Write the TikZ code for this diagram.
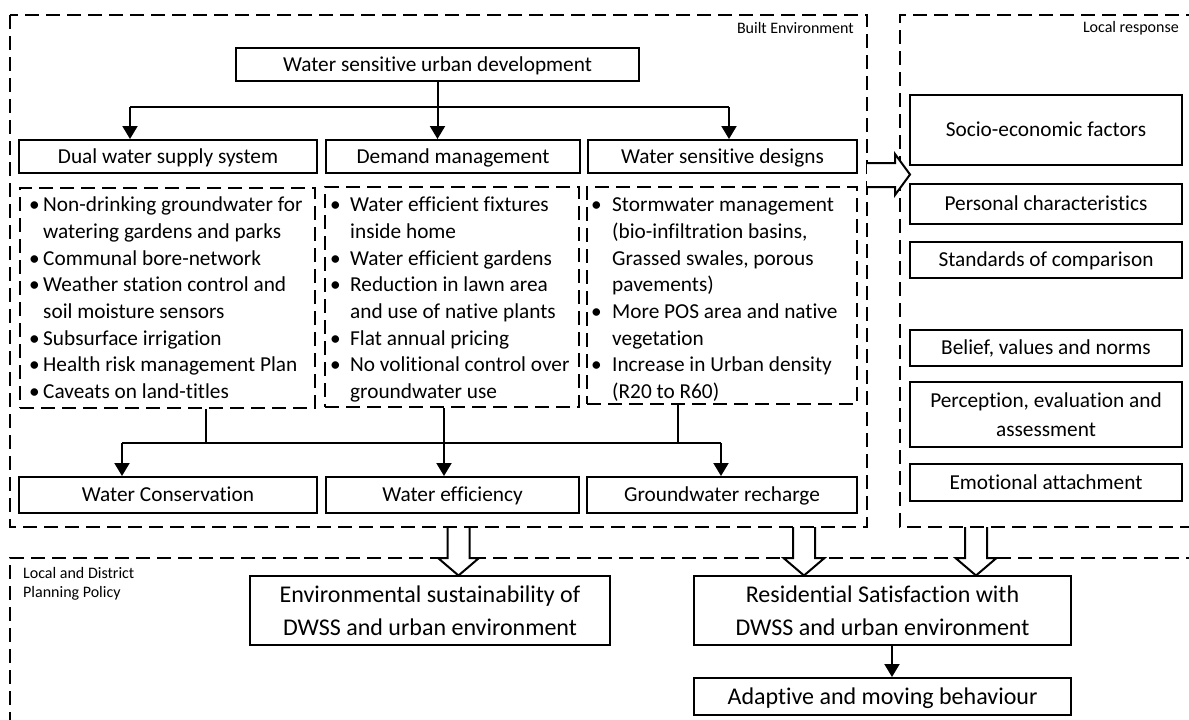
\documentclass[tikz,border=0pt]{standalone}
\usepackage{fontspec}
\setmainfont{Carlito}[Ligatures=CommonOff]
\usetikzlibrary{arrows.meta}
\newcommand\fsmain{\fontsize{21.3}{26.7}\selectfont}
\newcommand\fsbig{\fontsize{24}{33}\selectfont}
\newcommand\fslabel{\fontsize{16}{19.5}\selectfont}
\newcommand\bul[1]{\makebox[#1][l]{\textbullet}}
% hollow block arrow pointing down, centred on x = #1
\newcommand\hollowdown[1]{%
  \fill[white] (#1-11,528) -- (#1-11,558) -- (#1-20.5,558) -- (#1,575.5)
    -- (#1+20.5,558) -- (#1+11,558) -- (#1+11,528) -- cycle;
  \draw[blk] (#1-11,527) -- (#1-11,558) -- (#1-20.5,558) -- (#1,575.5)
    -- (#1+20.5,558) -- (#1+11,558) -- (#1+11,527);}
\begin{document}
\begin{tikzpicture}[x=1pt,y=-1pt,
  box/.style={draw, line width=2pt, inner sep=0pt, align=center, font=\fsmain},
  one/.style={text height=13.7pt, text depth=0pt},
  onebig/.style={text height=15.5pt, text depth=0pt},
  bigbox/.style={box, font=\fsbig},
  dbox/.style={draw, line width=2pt, dash pattern=on 14pt off 7pt, inner sep=0pt},
  cont/.style={line width=2pt, dash pattern=on 14pt off 7pt},
  conn/.style={line width=2pt},
  arr/.style={line width=2pt, -{Triangle[width=15pt,length=13pt]}},
  blk/.style={line width=2pt, line join=miter},
  lbl/.style={inner sep=0pt, font=\fslabel},
  list/.style={inner sep=0pt, anchor=base west, font=\fsmain}]
\useasboundingbox (0,0) rectangle (1189,720);
\clip (0,0) rectangle (1189,720);
\fill[white] (0,0) rectangle (1189,720);

% containers
\draw[cont] (10,15) rectangle (867,527);
\draw[cont] (1200,15) -- (900,15) -- (900,527) -- (1200,527);
\draw[cont] (1200,558) -- (10,558) -- (10,730);

\node[lbl, anchor=east] (lbe) at (854,28) {Built Environment};
\node[lbl, anchor=east] (llr) at (1179,28) {Local response};
\node[lbl, anchor=base west] (lpp) at (23,578.3)
  {\begin{tabular}[t]{@{}l@{}}Local and District\\Planning Policy\end{tabular}};

% block arrows
\fill[white] (867,163) -- (895,163) -- (895,154) -- (910,174.5) -- (895,195) -- (895,187) -- (867,187) -- cycle;
\draw[blk] (866,163) -- (895,163) -- (895,154) -- (910,174.5) -- (895,195) -- (895,187) -- (866,187);
\hollowdown{458.5}
\hollowdown{804}
\hollowdown{976}

% built environment
\node[box, one, minimum width=403pt, minimum height=33pt] (wsud) at (437.5,64.5) {Water sensitive urban development};
\node[box, one, minimum width=298pt, minimum height=33pt] (dual) at (168,156.5) {Dual water supply system};
\node[box, one, minimum width=254pt, minimum height=33pt] (demand) at (453,156.5) {Demand management};
\node[box, one, minimum width=269pt, minimum height=33pt] (designs) at (722.5,156.5) {Water sensitive designs};

\node[dbox, minimum width=295pt, minimum height=220pt] (ddual) at (167.5,298) {};
\node[dbox, minimum width=254pt, minimum height=220pt] (ddem) at (452,297) {};
\node[dbox, minimum width=270pt, minimum height=217pt] (ddes) at (722,295.5) {};

\node[list] (tdual) at (29,211.7) {\begin{tabular}[t]{@{}l@{}l@{}}
\bul{14pt} & Non-drinking groundwater for\\
 & watering gardens and parks\\
\bul{14pt} & Communal bore-network\\
\bul{14pt} & Weather station control and\\
 & soil moisture sensors\\
\bul{14pt} & Subsurface irrigation\\
\bul{14pt} & Health risk management Plan\\
\bul{14pt} & Caveats on land-titles
\end{tabular}};
\node[list] (tdem) at (330,211.7) {\begin{tabular}[t]{@{}l@{}l@{}}
\bul{20pt} & Water efficient fixtures\\
 & inside home\\
\bul{20pt} & Water efficient gardens\\
\bul{20pt} & Reduction in lawn area\\
 & and use of native plants\\
\bul{20pt} & Flat annual pricing\\
\bul{20pt} & No volitional control over\\
 & groundwater use
\end{tabular}};
\node[list] (tdes) at (591,211.7) {\begin{tabular}[t]{@{}l@{}l@{}}
\bul{21pt} & Stormwater management\\
 & (bio-infiltration basins,\\
 & Grassed swales, porous\\
 & pavements)\\
\bul{21pt} & More POS area and native\\
 & vegetation\\
\bul{21pt} & Increase in Urban density\\
 & (R20 to R60)
\end{tabular}};

\node[box, one, minimum width=298pt, minimum height=36pt] (cons) at (168,495) {Water Conservation};
\node[box, one, minimum width=253pt, minimum height=36pt] (eff) at (452.5,495) {Water efficiency};
\node[box, one, minimum width=270pt, minimum height=36pt] (rech) at (722,495) {Groundwater recharge};

% top fan-out
\draw[conn] (wsud.south) -- (wsud.south |- 0,107) coordinate (jm);
\coordinate (tl) at (130,107);
\coordinate (tr) at (729,107);
\draw[conn] (tl) -- (tr);
\draw[arr] (tl) -- (tl |- dual.north);
\draw[arr] (jm) -- (jm |- demand.north);
\draw[arr] (tr) -- (tr |- designs.north);

% bottom fan-in
\coordinate (bl) at (122,443);
\coordinate (br) at (721,443);
\draw[conn] (bl) -- (br);
\draw[conn] ([xshift=38.5pt]ddual.south) -- ([xshift=38.5pt]ddual.south |- bl);
\draw[conn] ([xshift=-44pt]ddes.south) -- ([xshift=-44pt]ddes.south |- br);
\draw[arr] (bl) -- (bl |- cons.north);
\draw[arr] ([xshift=-8pt]ddem.south) -- ([xshift=-8pt]ddem.south |- eff.north);
\draw[arr] (br) -- (br |- rech.north);

% local response
\node[box, one, minimum width=272pt, minimum height=70pt] (socio) at (1046,130) {Socio-economic factors};
\node[box, one, minimum width=272pt, minimum height=40pt] (pers) at (1046,204) {Personal characteristics};
\node[box, one, minimum width=272pt, minimum height=36pt] (stand) at (1046,260) {Standards of comparison};
\node[box, one, minimum width=272pt, minimum height=36pt] (belief) at (1046,348) {Belief, values and norms};
\node[box, font=\fontsize{21.3}{29}\selectfont, minimum width=272pt, minimum height=65pt] (perc) at (1046,414.5) {Perception, evaluation and\\assessment};
\node[box, one, minimum width=272pt, minimum height=37pt] (emot) at (1046,482.5) {Emotional attachment};

% planning policy
\node[bigbox, minimum width=360pt, minimum height=69pt] (env) at (430,610.5) {Environmental sustainability of\\DWSS and urban environment};
\node[bigbox, minimum width=377pt, minimum height=69pt] (res) at (882.5,610.5) {Residential Satisfaction with\\DWSS and urban environment};
\node[bigbox, onebig, minimum width=377pt, minimum height=37pt] (adapt) at (882.5,696.5) {Adaptive and moving behaviour};
\draw[arr] ([xshift=9.5pt]res.south) -- ([xshift=9.5pt]adapt.north);
\end{tikzpicture}
\end{document}
